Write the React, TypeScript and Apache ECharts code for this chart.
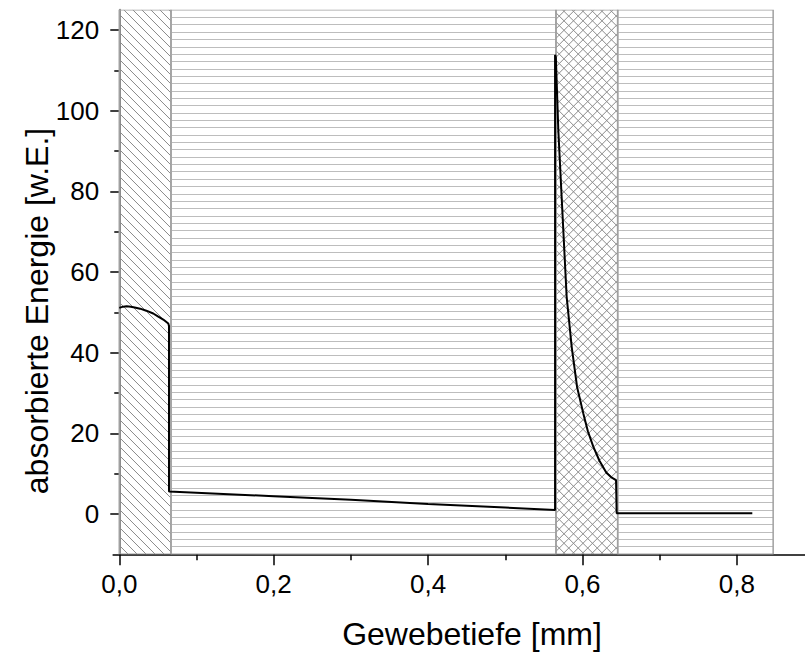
import React, { useEffect, useRef } from "react";
import * as echarts from "echarts";

// ---- data ----
const xMajorTicks = [0, 0.2, 0.4, 0.6, 0.8];
const xMinorTicks = [0.1, 0.3, 0.5, 0.7];
const yMajorTicks = [0, 20, 40, 60, 80, 100, 120];
const yMinorTicks = [10, 30, 50, 70, 90, 110];

const xMin = -0.008;
const xMax = 0.888;
const yMin = -10;
const yMax = 125;

// tissue layers (depth ranges in mm) and their fill pattern
const layerStart = [0, 0.067, 0.5657, 0.6456];
const layerEnd = [0.067, 0.5657, 0.6456, 0.847];
const layerPattern = ["diagonal", "horizontal", "cross", "horizontal"];

// absorbed energy curve
const depth = [
  0.0, 0.005, 0.0096, 0.015, 0.02, 0.027, 0.035, 0.044, 0.05, 0.057, 0.0635, 0.0644,
  0.0644, 0.2, 0.3, 0.4, 0.5, 0.5645,
  0.5645, 0.5655, 0.5687, 0.573, 0.5795, 0.586, 0.593, 0.601, 0.607, 0.614, 0.622, 0.631, 0.638, 0.6435,
  0.6443, 0.82,
];
const energy = [
  51.1, 51.4, 51.5, 51.4, 51.2, 50.9, 50.4, 49.7, 49.0, 48.2, 47.2, 46.6,
  5.6, 4.4, 3.5, 2.5, 1.6, 1.0,
  113.8, 113.3, 95.2, 78.7, 53.9, 41.5, 31.5, 25.0, 20.5, 16.7, 13.2, 10.2, 9.0, 8.4,
  0.2, 0.2,
];

const xTitle = "Gewebetiefe [mm]";
const yTitle = "absorbierte Energie [w.E.]";

const FONT = "'Liberation Sans', Arial, Helvetica, sans-serif";

function fmtX(v: number) {
  return v.toFixed(1).replace(".", ",");
}

export default function App() {
  const ref = useRef<HTMLDivElement>(null);
  useEffect(() => {
    if (!ref.current) return;
    const chart = echarts.init(ref.current, undefined, { renderer: "svg" });

    const layerData = layerStart.map((s, i) => [s, layerEnd[i], i]);

    const renderItem = (params: any, api: any) => {
      const x0v = api.value(0);
      const x1v = api.value(1);
      const idx = api.value(2);
      const pattern = layerPattern[idx];
      const p0 = api.coord([x0v, yMax]);
      const p1 = api.coord([x1v, yMin]);
      const L = p0[0];
      const T = p0[1];
      const R = p1[0];
      const B = p1[1];
      const children: any[] = [];
      const clipDiag = (c: number, dir: number) => {
        const pts: number[][] = [];
        const yAt = (x: number) => T + dir * (x - c);
        const xAt = (y: number) => c + (y - T) / dir;
        const cand: number[][] = [
          [L, yAt(L)],
          [R, yAt(R)],
          [xAt(T), T],
          [xAt(B), B],
        ];
        for (const q of cand) {
          if (q[0] >= L - 0.01 && q[0] <= R + 0.01 && q[1] >= T - 0.01 && q[1] <= B + 0.01) {
            if (!pts.some((o) => Math.abs(o[0] - q[0]) < 0.01 && Math.abs(o[1] - q[1]) < 0.01)) pts.push(q);
          }
        }
        if (pts.length >= 2) {
          return { x1: pts[0][0], y1: pts[0][1], x2: pts[1][0], y2: pts[1][1] };
        }
        return null;
      };
      if (pattern === "horizontal") {
        const step = 7.35;
        for (let y = T + step; y < B; y += step) {
          const yy = Math.round(y) + 0.5;
          children.push({
            type: "line",
            shape: { x1: L, y1: yy, x2: R, y2: yy },
            style: { stroke: "#bdbdbd", lineWidth: 1 },
          });
        }
      } else {
        const step = pattern === "diagonal" ? 9 : 9.5;
        const dirs = pattern === "diagonal" ? [1] : [1, -1];
        const color = "#8a8a8a";
        for (const dir of dirs) {
          const H = B - T;
          const start = dir === 1 ? L - H : L;
          const end = dir === 1 ? R : R + H;
          for (let c = start; c <= end; c += step) {
            const seg = clipDiag(c, dir);
            if (seg) {
              children.push({
                type: "line",
                shape: seg,
                style: { stroke: color, lineWidth: 1 },
              });
            }
          }
        }
      }
      children.push({
        type: "rect",
        shape: { x: L, y: T, width: R - L, height: B - T },
        style: { fill: "none", stroke: "#a0a0a0", lineWidth: 1.5 },
      });
      return { type: "group", children };
    };

    const option: any = {
      animation: false,
      backgroundColor: "#ffffff",
      grid: { left: 113.1, top: 9.8, width: 691.7, height: 544.5, containLabel: false },
      xAxis: [
        {
          type: "value",
          min: xMin,
          max: xMax,
          axisLine: { show: true, onZero: false, lineStyle: { color: "#000", width: 1.5 } },
          axisTick: {
            show: true,
            customValues: xMajorTicks,
            length: 11,
            inside: false,
            lineStyle: { color: "#000", width: 1.5 },
          },
          axisLabel: {
            customValues: xMajorTicks,
            formatter: (v: number) => fmtX(v),
            margin: 17,
            fontSize: 26,
            fontFamily: FONT,
            color: "#000",
          },
          splitLine: { show: false },
        },
        {
          type: "value",
          min: xMin,
          max: xMax,
          position: "bottom",
          axisLine: { show: false, onZero: false },
          axisTick: {
            show: true,
            customValues: xMinorTicks,
            length: 6,
            lineStyle: { color: "#000", width: 1.5 },
          },
          axisLabel: { show: false },
          splitLine: { show: false },
        },
      ],
      yAxis: [
        {
          type: "value",
          min: yMin,
          max: yMax,
          axisLine: { show: true, onZero: true, lineStyle: { color: "#8c8c8c", width: 2 } },
          axisTick: {
            show: true,
            customValues: yMajorTicks,
            length: 9,
            lineStyle: { color: "#000", width: 1.5 },
          },
          axisLabel: {
            customValues: yMajorTicks,
            margin: 14,
            fontSize: 26,
            fontFamily: FONT,
            color: "#000",
          },
          splitLine: { show: false },
        },
        {
          type: "value",
          min: yMin,
          max: yMax,
          position: "left",
          axisLine: { show: false, onZero: true },
          axisTick: {
            show: true,
            customValues: yMinorTicks,
            length: 5,
            lineStyle: { color: "#000", width: 1.5 },
          },
          axisLabel: { show: false },
          splitLine: { show: false },
        },
      ],
      series: [
        {
          type: "custom",
          renderItem,
          data: layerData,
          encode: { x: [0, 1] },
          clip: true,
          silent: true,
          z: 1,
        },
        {
          type: "line",
          data: depth.map((d, i) => [d, energy[i]]),
          symbol: "none",
          lineStyle: { color: "#000", width: 2 },
          z: 5,
        },
      ],
      graphic: [
        {
          type: "text",
          x: 472,
          y: 634,
          style: {
            text: xTitle,
            fontSize: 32,
            fontFamily: FONT,
            fill: "#000",
            align: "center",
            verticalAlign: "middle",
          },
        },
        {
          type: "text",
          x: 37,
          y: 311,
          rotation: Math.PI / 2,
          style: {
            text: yTitle,
            fontSize: 32,
            fontFamily: FONT,
            fill: "#000",
            align: "center",
            verticalAlign: "middle",
          },
        },
      ],
    };
    chart.setOption(option);
    return () => chart.dispose();
  }, []);
  return (
    <div
      ref={ref}
      style={{ position: "fixed", left: 0, top: 0, width: 805, height: 652 }}
    />
  );
}
